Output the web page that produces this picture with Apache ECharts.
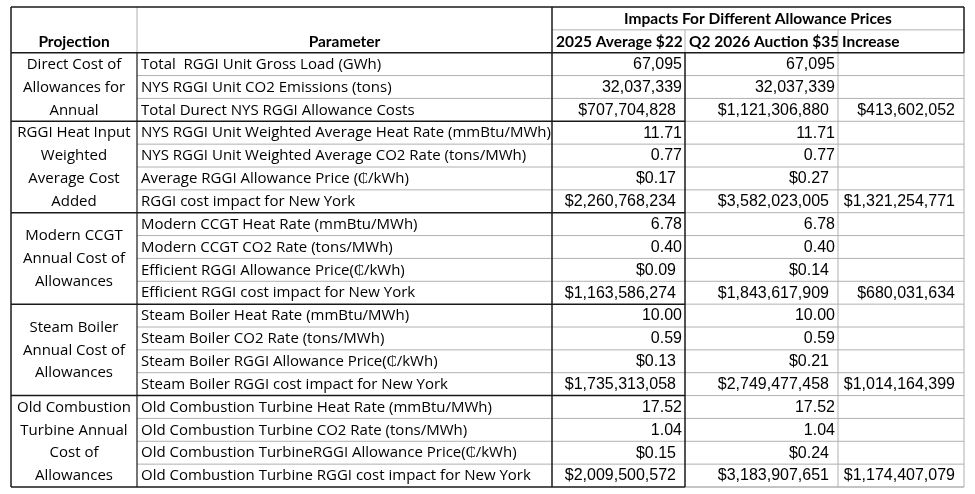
<!DOCTYPE html>
<html>
<head>
<meta charset="utf-8">
<script src="https://cdn.jsdelivr.net/npm/echarts@6/dist/echarts.min.js"></script>
<style>
  html, body { margin: 0; padding: 0; background: #fff; }
  #table { width: 975px; height: 494px; }
</style>
</head>
<body>
<div id="table"></div>
<script>
// ---- data ----
var headTitle = 'Impacts For Different Allowance Prices';
var headProjection = 'Projection';
var headParameter = 'Parameter';
var scenarios = ['2025 Average $22', 'Q2 2026 Auction $35', 'Increase'];

var projections = [
    'Direct Cost of\nAllowances for\nAnnual',
    'RGGI Heat Input\nWeighted\nAverage Cost\nAdded',
    'Modern CCGT\nAnnual Cost of\nAllowances',
    'Steam Boiler\nAnnual Cost of\nAllowances',
    'Old Combustion\nTurbine Annual\nCost of\nAllowances'
];
var groupSizes = [3, 4, 4, 4, 4];

var parameters = [
    'Total  RGGI Unit Gross Load (GWh)',
    'NYS RGGI Unit CO2 Emissions (tons)',
    'Total Durect NYS RGGI Allowance Costs',
    'NYS RGGI Unit Weighted Average Heat Rate (mmBtu/MWh)',
    'NYS RGGI Unit Weighted Average CO2 Rate (tons/MWh)',
    'Average RGGI Allowance Price (\u20b5/kWh)',
    'RGGI cost impact for New York',
    'Modern CCGT Heat Rate (mmBtu/MWh)',
    'Modern CCGT CO2 Rate (tons/MWh)',
    'Efficient RGGI Allowance Price(\u20b5/kWh)',
    'Efficient RGGI cost impact for New York',
    'Steam Boiler Heat Rate (mmBtu/MWh)',
    'Steam Boiler CO2 Rate (tons/MWh)',
    'Steam Boiler RGGI Allowance Price(\u20b5/kWh)',
    'Steam Boiler RGGI cost impact for New York',
    'Old Combustion Turbine Heat Rate (mmBtu/MWh)',
    'Old Combustion Turbine CO2 Rate (tons/MWh)',
    'Old Combustion TurbineRGGI Allowance Price(\u20b5/kWh)',
    'Old Combustion Turbine RGGI cost impact for New York'
];
// int = 67,095   dec = 11.71   usd = $707,704,828   cents = $0.17
var rowFormats = ['int', 'int', 'usd', 'dec', 'dec', 'cents', 'usd', 'dec', 'dec', 'cents', 'usd',
                  'dec', 'dec', 'cents', 'usd', 'dec', 'dec', 'cents', 'usd'];
var avg2025 = [67095, 32037339, 707704828, 11.71, 0.77, 0.17, 2260768234, 6.78, 0.40, 0.09, 1163586274,
               10.00, 0.59, 0.13, 1735313058, 17.52, 1.04, 0.15, 2009500572];
var auction2026 = [67095, 32037339, 1121306880, 11.71, 0.77, 0.27, 3582023005, 6.78, 0.40, 0.14, 1843617909,
                   10.00, 0.59, 0.21, 2749477458, 17.52, 1.04, 0.24, 3183907651];
var increase = [null, null, 413602052, null, null, null, 1321254771, null, null, null, 680031634,
                null, null, null, 1014164399, null, null, null, 1174407079];

// ---- layout ----
var colWidths = [126, 415, 133, 153, 126];
var headRows = 2;
var black = '#1a1a1a', gray = '#b0b0b0';
var textFont = '15px "Open Sans"';
var boldFont = 'bold 15.5px Lato';
var numFont = '16px "Liberation Sans"';

var colEdges = [0];
colWidths.forEach(function (w) { colEdges.push(colEdges[colEdges.length - 1] + w); });
var totalRows = headRows + parameters.length;

function fmt(v, kind) {
    if (v == null) return '';
    if (kind === 'int') return v.toLocaleString('en-US');
    if (kind === 'dec') return v.toFixed(2);
    if (kind === 'cents') return '$' + v.toFixed(2);
    return '$' + v.toLocaleString('en-US');
}

// cells
var cells = [];
function addCell(c0, c1, r0, r1, text, opt) {
    opt = opt || {};
    cells.push({c0: c0, c1: c1, r0: r0, r1: r1, text: text,
        font: opt.font || textFont, align: opt.align || 'left',
        pad: opt.pad == null ? 4 : opt.pad, textRow: opt.textRow});
}
addCell(0, 1, 0, 2, headProjection, {font: boldFont, align: 'center', textRow: 1});
addCell(1, 2, 0, 2, headParameter, {font: boldFont, align: 'center', textRow: 1});
addCell(2, 5, 0, 1, headTitle, {font: boldFont, align: 'center'});
scenarios.forEach(function (s, i) { addCell(2 + i, 3 + i, 1, 2, s, {font: boldFont, pad: 4}); });

var r = headRows;
groupSizes.forEach(function (n, g) {
    addCell(0, 1, r, r + n, projections[g], {align: 'center'});
    r += n;
});
parameters.forEach(function (p, i) {
    var row = headRows + i;
    var kind = rowFormats[i];
    var pad = (kind === 'usd' || kind === 'cents') ? 9 : 3;
    addCell(1, 2, row, row + 1, p, {pad: 4});
    [avg2025, auction2026, increase].forEach(function (arr, k) {
        addCell(2 + k, 3 + k, row, row + 1, fmt(arr[i], kind), {font: numFont, align: 'right', pad: pad});
    });
});

// border lines  [x0, y0, x1, y1] in column/row units
var lines = [];
function hLine(row, c0, c1, color, w) { lines.push({x0: colEdges[c0], y0: row, x1: colEdges[c1], y1: row, color: color, w: w}); }
function vLine(col, r0, r1, color, w) { lines.push({x0: colEdges[col], y0: r0, x1: colEdges[col], y1: r1, color: color, w: w}); }

var groupEnds = [];
r = headRows;
groupSizes.forEach(function (n) { r += n; groupEnds.push(r); });
for (var row = headRows + 1; row < totalRows; row++) {
    if (groupEnds.indexOf(row) < 0) hLine(row, 1, 5, gray, 1);
    else hLine(row, 3, 5, gray, 1);
}
hLine(1, 2, 5, gray, 1);
vLine(1, 0, headRows, gray, 1);
vLine(3, 1, headRows, gray, 1);
vLine(4, 1, headRows, gray, 1);
vLine(4, headRows, totalRows, gray, 1);
vLine(5, headRows, totalRows, gray, 1);
hLine(totalRows, 3, 5, gray, 1.5);
// dark borders on top
hLine(0, 0, 5, black, 1.5);
hLine(headRows, 0, 5, black, 1.5);
groupEnds.forEach(function (e) { hLine(e, 0, 3, black, 1.5); });
vLine(0, 0, totalRows, black, 1.5);
vLine(1, headRows, totalRows, black, 1.2);
vLine(2, 0, totalRows, black, 1.5);
vLine(3, headRows, totalRows, black, 1.5);
vLine(5, 0, headRows, black, 1.5);

var chart = echarts.init(document.getElementById('table'));
var option = {
    backgroundColor: '#fff',
    animation: false,
    grid: {left: 11, top: 7, width: colEdges[colEdges.length - 1], height: 480},
    xAxis: {type: 'value', min: 0, max: colEdges[colEdges.length - 1], show: false},
    yAxis: {type: 'value', min: 0, max: totalRows, inverse: true, show: false},
    series: [
        {
            type: 'custom',
            name: 'cells',
            silent: true,
            encode: {x: [0, 1], y: [2, 3]},
            data: cells.map(function (c) { return [colEdges[c.c0], colEdges[c.c1], c.r0, c.r1]; }),
            renderItem: function (params, api) {
                var c = cells[params.dataIndex];
                var p0 = api.coord([api.value(0), api.value(2)]);
                var p1 = api.coord([api.value(1), api.value(3)]);
                var rowH = api.size([0, 1])[1];
                var tx = c.align === 'left' ? p0[0] + c.pad
                    : c.align === 'right' ? p1[0] - c.pad : (p0[0] + p1[0]) / 2;
                var ty = c.textRow != null ? p0[1] + rowH * (c.textRow + 0.5) : (p0[1] + p1[1]) / 2;
                return {
                    type: 'group',
                    children: [
                        {type: 'rect', shape: {x: p0[0], y: p0[1], width: p1[0] - p0[0], height: p1[1] - p0[1]},
                         style: {fill: '#fff'}},
                        {type: 'text', style: {text: c.text, x: tx, y: ty + 0.5, align: c.align,
                         verticalAlign: 'middle', font: c.font, fill: '#000', lineHeight: rowH}}
                    ]
                };
            }
        },
        {
            type: 'custom',
            name: 'borders',
            silent: true,
            encode: {x: [0, 2], y: [1, 3]},
            data: lines.map(function (l) { return [l.x0, l.y0, l.x1, l.y1]; }),
            renderItem: function (params, api) {
                var l = lines[params.dataIndex];
                var a = api.coord([api.value(0), api.value(1)]);
                var b = api.coord([api.value(2), api.value(3)]);
                return {type: 'line', shape: {x1: a[0], y1: a[1], x2: b[0], y2: b[1]},
                        style: {stroke: l.color, lineWidth: l.w}};
            }
        }
    ]
};
chart.setOption(option);
</script>
</body>
</html>
